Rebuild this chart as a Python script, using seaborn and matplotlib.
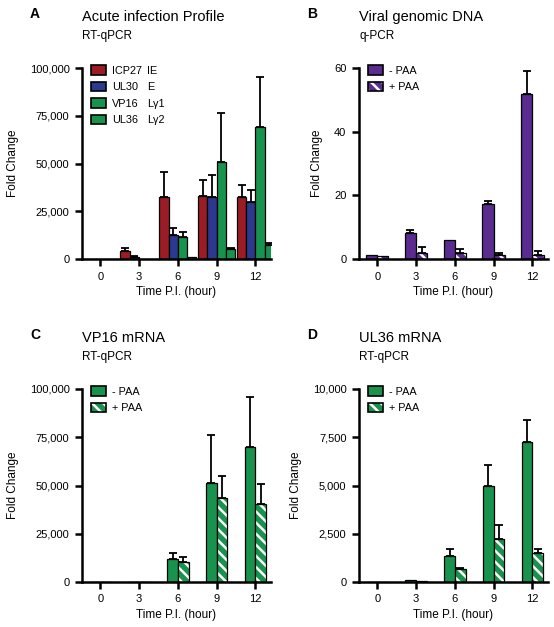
import matplotlib
import matplotlib.pyplot as plt
import numpy as np
import pandas as pd
import seaborn as sns
from matplotlib.legend_handler import HandlerTuple
from matplotlib.patches import Patch, Rectangle
from matplotlib.ticker import FuncFormatter

matplotlib.use("Agg")

TIMES = ["0", "3", "6", "9", "12"]

# Panel A: acute infection profile (mean, top of error bar)
A_ICP27 = [0, 4200, 32500, 33000, 32500]
A_ICP27_UP = [0, 5800, 45500, 41500, 39000]
A_UL30 = [0, 1300, 12600, 32500, 30000]
A_UL30_UP = [0, 1600, 16000, 44000, 36000]
A_VP16 = [0, 0, 11500, 51000, 69000]
A_VP16_UP = [0, 0, 14000, 76300, 95500]
A_UL36 = [0, 100, 1300, 5200, 7300]
A_UL36_UP = [0, 0, 0, 5900, 8300]

# Panel B: viral genomic DNA
B_MINUS = [1.1, 8.1, 6.0, 17.2, 51.8]
B_MINUS_UP = [0, 9.1, 0, 18.1, 59.2]
B_PLUS = [1.0, 2.0, 1.8, 1.15, 1.4]
B_PLUS_UP = [0, 3.7, 3.1, 1.8, 2.6]

# Panel C: VP16 mRNA
C_MINUS = [0, 0, 11800, 51100, 69700]
C_MINUS_UP = [0, 0, 15000, 76300, 95700]
C_PLUS = [0, 0, 10600, 43500, 40400]
C_PLUS_UP = [0, 0, 13000, 55000, 51000]

# Panel D: UL36 mRNA
D_MINUS = [0, 110, 1330, 4970, 7230]
D_MINUS_UP = [0, 0, 1720, 6050, 8370]
D_PLUS = [0, 40, 680, 2240, 1510]
D_PLUS_UP = [0, 0, 710, 2960, 1720]

GENE_CLASS = ["IE", "E", "L\u03b31", "L\u03b32"]

RED = "#9b1c24"
BLUE = "#2b3a8f"
GREEN = "#17934d"
PURPLE = "#5b2c8f"
HATCH = "\\\\\\"

sns.set_style("ticks")
plt.rcParams["font.family"] = ["Liberation Sans", "DejaVu Sans"]
plt.rcParams["hatch.linewidth"] = 1.8
for key in ("text.color", "axes.labelcolor", "xtick.color", "ytick.color", "axes.edgecolor"):
    plt.rcParams[key] = "black"

PX = 0.72  # points per pixel at 100 dpi

fig = plt.figure(figsize=(5.54, 6.27), dpi=100)
ax_a = fig.add_axes([82 / 554, 1 - 259 / 627, 189 / 554, 191 / 627])
ax_b = fig.add_axes([359 / 554, 1 - 259 / 627, 189 / 554, 191 / 627])
ax_c = fig.add_axes([82 / 554, 1 - 582 / 627, 189 / 554, 193 / 627])
ax_d = fig.add_axes([359 / 554, 1 - 582 / 627, 189 / 554, 193 / 627])


def draw_panel(ax, series, names, colors, hatched, width, ymax, yticks, comma):
    rows = []
    for name, (vals, _) in zip(names, series):
        for t, v in zip(TIMES, vals):
            rows.append({"time": t, "value": v, "series": name})
    df = pd.DataFrame(rows)
    sns.barplot(
        data=df, x="time", y="value", hue="series", order=TIMES,
        hue_order=names, palette=colors, saturation=1, width=width,
        edgecolor="black", linewidth=0.9, errorbar=None, legend=False, ax=ax,
    )
    for k, (cont, (vals, ups)) in enumerate(zip(ax.containers, series)):
        xs, hs, es = [], [], []
        for bar, v, up in zip(cont, vals, ups):
            if hatched[k]:
                bar.set_hatch(HATCH)
                bar.set_edgecolor("white")
                bar.set_linewidth(0)
                ax.add_patch(Rectangle(bar.get_xy(), bar.get_width(), bar.get_height(),
                                       fill=False, edgecolor="black", linewidth=0.9,
                                       zorder=bar.get_zorder() + 0.1))
            if up > v:
                xs.append(bar.get_x() + bar.get_width() / 2)
                hs.append(v)
                es.append(up - v)
        if xs:
            ax.errorbar(xs, hs, yerr=[np.zeros(len(es)), es], fmt="none",
                        ecolor="black", elinewidth=1.3, capsize=2.6, capthick=1.3,
                        zorder=1)
    ax.set_ylim(0, ymax)
    ax.set_xlim(-0.47, 4.4)
    ax.set_yticks(yticks)
    if comma:
        ax.yaxis.set_major_formatter(FuncFormatter(lambda v, p: f"{v:,.0f}"))
    sns.despine(ax=ax)
    for s in ("left", "bottom"):
        ax.spines[s].set_linewidth(1.8)
    ax.tick_params(axis="both", length=5, width=1.8, pad=4, labelsize=8)
    ax.set_xlabel("Time P.I. (hour)", fontsize=8.5, labelpad=3)
    ax.set_ylabel("Fold Change", fontsize=8.5, labelpad=8)

    handles = []
    for c, h in zip(colors, hatched):
        if h:
            handles.append((Patch(facecolor=c, edgecolor="white", hatch=HATCH, linewidth=0),
                            Patch(fill=False, edgecolor="black", linewidth=1.2)))
        else:
            handles.append(Patch(facecolor=c, edgecolor="black", linewidth=1.2))
    leg = ax.legend(handles=handles, labels=list(names), loc="upper left",
                    bbox_to_anchor=(0.045, 1.015), frameon=False, fontsize=7.8,
                    handlelength=1.4, handleheight=1.0, handletextpad=0.55,
                    labelspacing=0.55, borderpad=0, borderaxespad=0,
                    handler_map={tuple: HandlerTuple(ndivide=1)})
    return leg


def header(ax, letter, title, sub):
    ax.annotate(letter, xy=(0, 1), xycoords="axes fraction",
                xytext=(-47 * PX, 54 * PX), textcoords="offset points",
                ha="center", va="center", fontsize=10, fontweight="bold")
    ax.annotate(title, xy=(0, 1), xycoords="axes fraction",
                xytext=(0, 51 * PX), textcoords="offset points",
                ha="left", va="center", fontsize=10.5)
    ax.annotate(sub, xy=(0, 1), xycoords="axes fraction",
                xytext=(0, 32 * PX), textcoords="offset points",
                ha="left", va="center", fontsize=8.5)


leg_a = draw_panel(
    ax_a,
    [(A_ICP27, A_ICP27_UP), (A_UL30, A_UL30_UP), (A_VP16, A_VP16_UP), (A_UL36, A_UL36_UP)],
    ["ICP27", "UL30", "VP16", "UL36"], [RED, BLUE, GREEN, GREEN],
    [False] * 4, 0.96, 100000, [0, 25000, 50000, 75000, 100000], True,
)
draw_panel(
    ax_b, [(B_MINUS, B_MINUS_UP), (B_PLUS, B_PLUS_UP)], ["- PAA", "+ PAA"],
    [PURPLE, PURPLE], [False, True], 0.58, 60, [0, 20, 40, 60], False,
)
draw_panel(
    ax_c, [(C_MINUS, C_MINUS_UP), (C_PLUS, C_PLUS_UP)], ["- PAA", "+ PAA"],
    [GREEN, GREEN], [False, True], 0.55, 100000, [0, 25000, 50000, 75000, 100000], True,
)
draw_panel(
    ax_d, [(D_MINUS, D_MINUS_UP), (D_PLUS, D_PLUS_UP)], ["- PAA", "+ PAA"],
    [GREEN, GREEN], [False, True], 0.55, 10000, [0, 2500, 5000, 7500, 10000], True,
)

header(ax_a, "A", "Acute infection Profile", "RT-qPCR")
header(ax_b, "B", "Viral genomic DNA", "q-PCR")
header(ax_c, "C", "VP16 mRNA", "RT-qPCR")
header(ax_d, "D", "UL36 mRNA", "RT-qPCR")

# gene class column next to the panel A legend labels
fig.canvas.draw()
renderer = fig.canvas.get_renderer()
boxes = [t.get_window_extent(renderer) for t in leg_a.get_texts()]
x_col = max(b.x1 for b in boxes) + 5
for bb, cls in zip(boxes, GENE_CLASS):
    y_mid = (bb.y0 + bb.y1) / 2
    fig.text(x_col / fig.bbox.width, y_mid / fig.bbox.height, cls,
             fontsize=7.8, ha="left", va="center")

fig.savefig("out.png", dpi=100)
